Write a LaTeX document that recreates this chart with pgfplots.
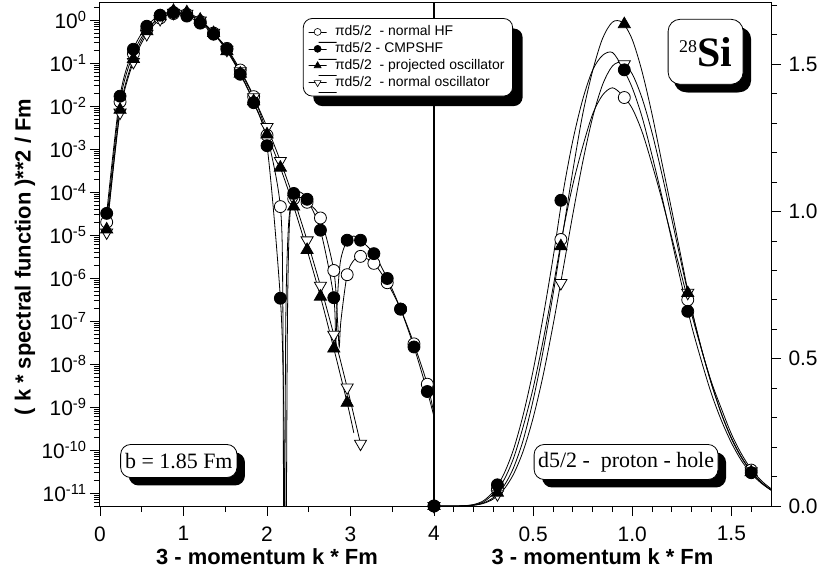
\documentclass[border=0pt]{standalone}
\usepackage{fontspec}
\setmainfont{Liberation Sans}
\newfontfamily\timesf{Liberation Serif}
\usepackage{pgfplots}
\pgfplotsset{compat=1.18}
\usetikzlibrary{shadows}

\tikzset{
  boxsty/.style={draw=black, line width=0.8bp, fill=white, drop shadow={shadow xshift=8bp, shadow yshift=-8bp, fill=black, opacity=1}},
}
\pgfplotsset{
  myaxis/.style={
    scale only axis, height=503bp, axis line style={line width=1bp},
    tick align=outside, major tick length=10bp, minor tick length=6bp,
    every tick/.style={black, line width=0.8bp},
    tick label style={font=\fontsize{21}{21}\selectfont},
    xticklabel style={yshift=-7bp},
    label style={font=\fontsize{22}{22}\selectfont\bfseries},
    clip mode=individual,
  },
  ln/.style={black, line width=0.8bp, smooth, tension=0.5, no markers},
  mhf/.style={only marks, mark=*, mark size=6bp, mark options={draw=black, fill=white, line width=0.8bp}},
  mcm/.style={only marks, mark=*, mark size=6bp, mark options={draw=black, fill=black, line width=0.8bp}},
  mpo/.style={only marks, mark=triangle*, mark size=7bp, mark options={draw=black, fill=black, line width=0.8bp}},
  mno/.style={only marks, mark=triangle*, mark size=7bp, mark options={draw=black, fill=white, rotate=180, line width=0.8bp}},
}

\begin{document}
\begin{tikzpicture}
% ---------------- left panel (log) ----------------
\begin{axis}[myaxis, at={(0,0)}, anchor=south west, width=334bp,
  ymode=log, xmin=0, xmax=4, ymin=5e-12, ymax=2.5,
  xtick={0,1,2,3,4}, xticklabels={0,1,2,3,4}, minor xtick={0.5,1.5,2.5,3.5},
  xtick pos=left, ytick pos=left,
  ytick={1e-11,1e-10,1e-9,1e-8,1e-7,1e-6,1e-5,1e-4,1e-3,1e-2,1e-1,1},
  yticklabels={10\textsuperscript{-11},10\textsuperscript{-10},10\textsuperscript{-9},10\textsuperscript{-8},10\textsuperscript{-7},10\textsuperscript{-6},10\textsuperscript{-5},10\textsuperscript{-4},10\textsuperscript{-3},10\textsuperscript{-2},10\textsuperscript{-1},10\textsuperscript{0}},
  minor ytick={5e-12,6e-12,7e-12,8e-12,9e-12,
    2e-11,3e-11,4e-11,5e-11,6e-11,7e-11,8e-11,9e-11,
    2e-10,3e-10,4e-10,5e-10,6e-10,7e-10,8e-10,9e-10,
    2e-9,3e-9,4e-9,5e-9,6e-9,7e-9,8e-9,9e-9,
    2e-8,3e-8,4e-8,5e-8,6e-8,7e-8,8e-8,9e-8,
    2e-7,3e-7,4e-7,5e-7,6e-7,7e-7,8e-7,9e-7,
    2e-6,3e-6,4e-6,5e-6,6e-6,7e-6,8e-6,9e-6,
    2e-5,3e-5,4e-5,5e-5,6e-5,7e-5,8e-5,9e-5,
    2e-4,3e-4,4e-4,5e-4,6e-4,7e-4,8e-4,9e-4,
    2e-3,3e-3,4e-3,5e-3,6e-3,7e-3,8e-3,9e-3,
    2e-2,3e-2,4e-2,5e-2,6e-2,7e-2,8e-2,9e-2,
    2e-1,3e-1,4e-1,5e-1,6e-1,7e-1,8e-1,9e-1,2},
  xlabel={3 - momentum k * Fm},
  ylabel={( k * spectral function )**2 / Fm},
  xlabel style={at={(axis description cs:0.5,-0.1014)}, anchor=center},
  ylabel style={at={(axis description cs:-0.2246,0.495)}, anchor=center},
]
% lines
\addplot[ln] table {
0.08 2.0e-5
0.24 1.26e-2
0.40 0.166
0.56 0.60
0.72 1.12
0.88 1.42
1.04 1.36
1.20 0.93
1.36 0.50
1.52 0.22
1.68 0.069
1.84 0.0166
2.00 2.1e-3
2.16 4.6e-5
2.19 2e-7
2.200 1e-13
2.210 1e-13
2.225 1e-7
2.26 2e-5
2.32 7e-5
2.40 7.5e-5
2.48 5.8e-5
2.64 2.5e-5
2.80 1.5e-6
2.845 1e-7
2.865 2.5e-8
2.885 1e-7
2.96 1.2e-6
3.04 2.6e-6
3.12 3.2e-6
3.28 2.2e-6
3.44 7.8e-7
3.60 1.9e-7
3.76 2.95e-8
3.92 3.4e-9
4.00 7e-10
};
\addplot[ln] table {
0.08 1.153e-5
0.24 7.06e-3
0.40 0.1065
0.56 0.475
0.72 1.063
0.88 1.475
1.04 1.404
1.20 0.972
1.36 0.507
1.52 0.204
1.68 0.0645
1.84 0.0161
2.00 3.26e-3
2.16 5.30e-4
2.32 7.03e-5
2.48 7.53e-6
2.64 6.64e-7
2.80 4.81e-8
2.96 2.86e-9
3.12 1.41e-10
};
\addplot[ln] table {
0.08 1.35e-5
0.24 8.2e-3
0.40 0.125
0.56 0.555
0.72 1.23
0.88 1.64
1.04 1.52
1.20 1.02
1.36 0.50
1.52 0.19
1.68 0.057
1.84 0.013
2.00 2.2e-3
2.16 3.7e-4
2.32 4.6e-5
2.48 4.5e-6
2.64 3.7e-7
2.80 2.3e-8
2.96 1.26e-9
3.04 2.5e-10
};
\addplot[ln] table {
0.08 3.2e-5
0.24 1.7e-2
0.40 0.21
0.56 0.72
0.72 1.3
0.88 1.5
1.04 1.24
1.20 0.85
1.36 0.47
1.52 0.21
1.68 0.055
1.84 0.012
2.00 1.2e-3
2.16 3.4e-7
2.20 1e-9
2.218 1e-13
2.228 1e-13
2.245 1e-7
2.27 2e-5
2.32 9.3e-5
2.40 1.0e-4
2.48 6.8e-5
2.64 1.3e-5
2.80 3.5e-7
2.822 2.5e-8
2.842 3e-7
2.88 2.5e-6
2.96 7.6e-6
3.04 9.5e-6
3.12 7.6e-6
3.28 3.7e-6
3.44 9.8e-7
3.60 1.9e-7
3.76 2.5e-8
3.92 2.3e-9
4.00 6e-10
};
% markers
\addplot[mhf] table {
0.08 2.0e-5
0.24 1.26e-2
0.40 0.166
0.56 0.60
0.72 1.12
0.88 1.42
1.04 1.36
1.20 0.93
1.36 0.50
1.52 0.22
1.68 0.069
1.84 0.0166
2.00 2.1e-3
2.16 4.6e-5
2.32 7e-5
2.48 5.8e-5
2.64 2.5e-5
2.80 1.5e-6
2.96 1.2e-6
3.12 3.2e-6
3.28 2.2e-6
3.44 7.8e-7
3.60 1.9e-7
3.76 2.95e-8
3.92 3.4e-9
};
\addplot[mno] table {
0.08 1.153e-5
0.24 7.06e-3
0.40 0.1065
0.56 0.475
0.72 1.063
0.88 1.475
1.04 1.404
1.20 0.972
1.36 0.507
1.52 0.204
1.68 0.0645
1.84 0.0161
2.00 3.26e-3
2.16 5.30e-4
2.32 7.03e-5
2.48 7.53e-6
2.64 6.64e-7
2.80 4.81e-8
2.96 2.86e-9
3.12 1.41e-10
};
\addplot[mpo] table {
0.08 1.35e-5
0.24 8.2e-3
0.40 0.125
0.56 0.555
0.72 1.23
0.88 1.64
1.04 1.52
1.20 1.02
1.36 0.50
1.52 0.19
1.68 0.057
1.84 0.013
2.00 2.2e-3
2.16 3.7e-4
2.32 4.6e-5
2.48 4.5e-6
2.64 3.7e-7
2.80 2.3e-8
2.96 1.26e-9
};
\addplot[mcm] table {
0.08 3.2e-5
0.24 1.7e-2
0.40 0.21
0.56 0.72
0.72 1.3
0.88 1.5
1.04 1.24
1.20 0.85
1.36 0.47
1.52 0.21
1.68 0.055
1.84 0.012
2.00 1.2e-3
2.16 3.4e-7
2.32 9.3e-5
2.48 6.8e-5
2.64 1.3e-5
2.80 3.5e-7
2.96 7.6e-6
3.12 7.6e-6
3.28 3.7e-6
3.44 9.8e-7
3.60 1.9e-7
3.76 2.5e-8
3.92 2.3e-9
};
\node[boxsty, rounded corners=10bp, font=\timesf\fontsize{22}{22}\selectfont, minimum height=33bp, inner xsep=4.5bp] at (rel axis cs:0.236,0.0895) {b = 1.85 Fm};
\end{axis}

% ---------------- right panel (linear) ----------------
\begin{axis}[myaxis, at={(334bp,0)}, anchor=south west, width=337bp,
  xmin=0, xmax=1.7, ymin=0, ymax=1.708,
  xtick={0.5,1,1.5}, xticklabels={0.5,1.0,1.5},
  minor xtick={0.1,0.2,0.3,0.4,0.6,0.7,0.8,0.9,1.1,1.2,1.3,1.4,1.6},
  ytick={0,0.5,1,1.5}, yticklabels={0.0,0.5,1.0,1.5},
  minor ytick={0.1,0.2,0.3,0.4,0.6,0.7,0.8,0.9,1.1,1.2,1.3,1.4,1.6,1.7},
  xtick pos=left, ytick pos=right, yticklabel pos=right,
  yticklabel style={xshift=4bp},
  xlabel={3 - momentum k * Fm},
  xlabel style={at={(axis description cs:0.5,-0.1014)}, anchor=center},
  legend style={at={(-0.389,0.970)}, anchor=north west, draw=black, line width=0.8bp,
    rounded corners=9bp, fill=white,
    drop shadow={shadow xshift=10bp, shadow yshift=-10bp, fill=black, opacity=1},
    font=\fontsize{14}{14}\selectfont, inner xsep=7bp, inner ysep=5bp,
    nodes={inner sep=1.2bp, text height=11bp, text depth=3.5bp}},
  legend cell align=left,
  legend image code/.code={%
    \draw[mark repeat=2,mark phase=2] plot coordinates {(4bp,0bp) (11bp,0bp) (18bp,0bp)};},
]
\addplot[ln, forget plot] table {
0 0
0.1 0.0001
0.15 0.0008
0.2 0.004
0.25 0.014
0.3 0.042
0.35 0.085
0.4 0.16
0.45 0.27
0.5 0.40
0.55 0.56
0.6 0.74
0.65 0.93
0.7 1.09
0.75 1.22
0.8 1.33
0.85 1.395
0.9 1.42
0.95 1.395
1.0 1.35
1.05 1.27
1.1 1.16
1.15 1.04
1.2 0.91
1.25 0.78
1.3 0.65
1.35 0.53
1.4 0.42
1.45 0.33
1.5 0.245
1.55 0.178
1.6 0.125
1.65 0.087
1.7 0.059
1.75 0.04
};
\addplot[ln, forget plot] table {
0 0
0.1 0.00004
0.15 0.00047
0.2 0.0025
0.25 0.00886
0.3 0.0241
0.35 0.0543
0.4 0.1065
0.45 0.1867
0.5 0.299
0.55 0.442
0.6 0.612
0.65 0.799
0.7 0.989
0.75 1.167
0.8 1.319
0.85 1.430
0.9 1.494
0.95 1.506
1.0 1.467
1.05 1.384
1.1 1.267
1.15 1.126
1.2 0.973
1.25 0.817
1.3 0.667
1.35 0.532
1.4 0.414
1.45 0.3135
1.5 0.232
1.55 0.1676
1.6 0.118
1.65 0.0815
1.7 0.055
1.75 0.036
};
\addplot[ln, forget plot] table {
0 0
0.1 0.00005
0.15 0.00056
0.2 0.003
0.25 0.0106
0.3 0.0289
0.35 0.0652
0.4 0.128
0.45 0.224
0.5 0.359
0.55 0.525
0.6 0.716
0.65 0.927
0.7 1.137
0.75 1.330
0.8 1.477
0.85 1.587
0.9 1.643
0.95 1.642
1.0 1.584
1.05 1.474
1.1 1.330
1.15 1.165
1.2 1.002
1.25 0.833
1.3 0.667
1.35 0.532
1.4 0.414
1.45 0.312
1.5 0.229
1.55 0.165
1.6 0.116
1.65 0.080
1.7 0.054
1.75 0.035
};
\addplot[ln, forget plot] table {
0 0
0.1 0.0001
0.15 0.001
0.2 0.005
0.25 0.018
0.3 0.050
0.35 0.105
0.4 0.19
0.45 0.31
0.5 0.46
0.55 0.64
0.6 0.84
0.65 1.06
0.7 1.24
0.75 1.38
0.8 1.48
0.85 1.53
0.9 1.54
0.95 1.49
1.0 1.42
1.05 1.32
1.1 1.19
1.15 1.05
1.2 0.90
1.25 0.75
1.3 0.61
1.35 0.49
1.4 0.38
1.45 0.29
1.5 0.215
1.55 0.155
1.6 0.11
1.65 0.078
1.7 0.054
1.75 0.037
};
\addplot[mhf, forget plot] table {
0 0
0.32 0.058
0.64 0.905
0.96 1.387
1.28 0.70
1.6 0.122
};
\addplot[mno, forget plot] table {
0 0
0.32 0.040
0.64 0.757
0.96 1.50
1.28 0.724
1.6 0.118
};
\addplot[mpo, forget plot] table {
0 0
0.32 0.045
0.64 0.882
0.96 1.636
1.28 0.723
1.6 0.115
};
\addplot[mcm, forget plot] table {
0 0
0.32 0.072
0.64 1.038
0.96 1.481
1.28 0.661
1.6 0.113
};
\addlegendimage{black, line width=0.6bp, mark=*, mark size=3.5bp, mark options={fill=white}}
\addlegendentry{\hspace*{9bp}πd5/2\ \ - normal HF}
\addlegendimage{black, line width=0.6bp, mark=*, mark size=3.5bp, mark options={fill=black}}
\addlegendentry{\hspace*{9bp}πd5/2 - CMPSHF}
\addlegendimage{black, line width=0.6bp, mark=triangle*, mark size=4bp, mark options={fill=black}}
\addlegendentry{\hspace*{9bp}πd5/2\ \ - projected oscillator}
\addlegendimage{black, line width=0.6bp, mark=triangle*, mark size=4bp, mark options={fill=white, rotate=180}}
\addlegendentry{\hspace*{9bp}πd5/2\ \ - normal oscillator}
\node[boxsty, rounded corners=10bp, font=\timesf\fontsize{22}{22}\selectfont, minimum height=35bp, inner xsep=4bp] at (rel axis cs:0.570,0.0875) {d5/2 -\ \ proton - hole};
\node[boxsty, rounded corners=12bp, drop shadow={shadow xshift=6bp, shadow yshift=-8bp, fill=black, opacity=1}, minimum width=75bp, minimum height=65bp, inner sep=0bp] at (rel axis cs:0.806,0.903) {\timesf\raisebox{14bp}{\fontsize{18}{18}\selectfont 28}\fontsize{42}{42}\selectfont\bfseries Si};
\end{axis}
\pgfresetboundingbox
\path (-100bp,-70bp) rectangle (717bp,506bp);
\end{tikzpicture}
\end{document}
